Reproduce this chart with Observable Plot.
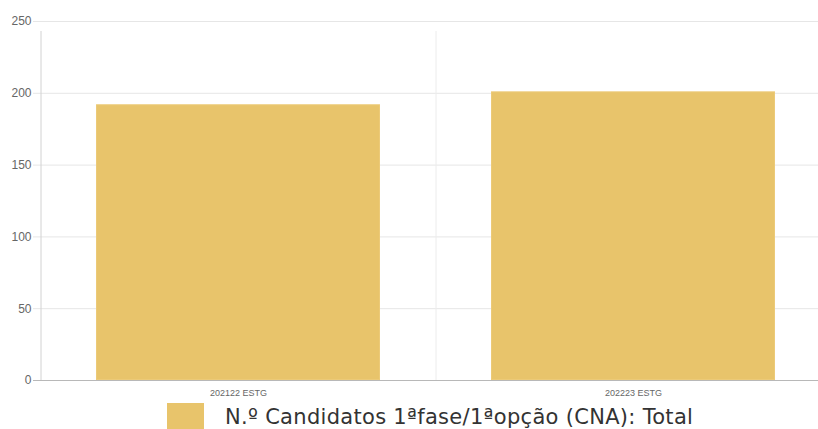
<!DOCTYPE html>
<html>
<head>
<meta charset="utf-8">
<script src="https://cdn.jsdelivr.net/npm/d3@7"></script>
<script src="https://cdn.jsdelivr.net/npm/@observablehq/plot@0.6"></script>
<style>
  html, body { margin: 0; padding: 0; background: #fff; width: 818px; height: 429px; overflow: hidden; }
  #wrap { position: relative; width: 818px; height: 429px; }
  #legend { position: absolute; left: 0; top: 398px; width: 818px; height: 31px; }
  #legend .box { position: absolute; left: 167px; top: 5px; width: 37px; height: 26px; background: #E8C46B; }
  #legend .lbl { position: absolute; left: 225px; top: 6px; font-family: "DejaVu Sans", sans-serif; font-size: 21px; letter-spacing: 0.3px; line-height: 26px; color: #333; white-space: nowrap; }
</style>
</head>
<body>
<div id="wrap"><div id="chart"></div><div id="legend"></div></div>
<script>
const categories = ["202122 ESTG", "202223 ESTG"];
const values = [192, 201];
const yTicks = [0, 50, 100, 150, 200, 250];
const seriesName = "N.º Candidatos 1ªfase/1ªopção (CNA): Total";
const barColor = "#E8C46B";

const data = categories.map((c, i) => ({cat: c, value: values[i]}));
const xRange = [41, 831];
const step = (xRange[1] - xRange[0]) / categories.length;

const chart = Plot.plot({
  width: 818,
  height: 398,
  marginLeft: 41,
  marginRight: 0,
  marginTop: 21,
  marginBottom: 18,
  style: {fontFamily: "'Liberation Sans', Arial, sans-serif", background: "#fff"},
  x: {type: "band", domain: categories, range: xRange, paddingInner: 0.28, paddingOuter: 0.14},
  y: {domain: [0, 250]},
  marks: [
    Plot.gridY(yTicks, {stroke: "#e6e6e6", strokeOpacity: 1, insetLeft: -8}),
    Plot.ruleX(categories, {x: d => d, dx: -step / 2, y1: 0, y2: 250, insetBottom: -10,
      stroke: (d, i) => i === 0 ? "#d2d2d2" : "#ececec"}),
    Plot.barY(data, {x: "cat", y: "value", fill: barColor, stroke: "#ecca78", strokeWidth: 1, inset: 0.5}),
    Plot.ruleY([0], {stroke: "#b8b8b8", insetLeft: -8}),
    Plot.axisY(yTicks, {tickSize: 0, tickPadding: 10, fontSize: 12, fill: "#666", label: null}),
    Plot.axisX({tickSize: 0, tickPadding: 9, fontSize: 9, fill: "#666", label: null})
  ]
});
document.getElementById("chart").appendChild(chart);

const legend = document.getElementById("legend");
const box = document.createElement("div"); box.className = "box"; box.style.background = barColor;
const lbl = document.createElement("div"); lbl.className = "lbl"; lbl.textContent = seriesName;
legend.appendChild(box); legend.appendChild(lbl);
</script>
</body>
</html>
